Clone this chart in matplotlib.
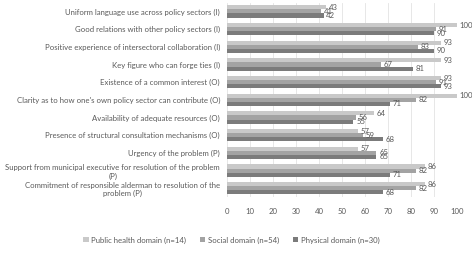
import numpy as np
import matplotlib.pyplot as plt

plt.rcParams['font.family'] = ['Lato', 'DejaVu Sans']

categories = [
    'Uniform language use across policy sectors (I)',
    'Good relations with other policy sectors (I)',
    'Positive experience of intersectoral collaboration (I)',
    'Key figure who can forge ties (I)',
    'Existence of a common interest (O)',
    "Clarity as to how one's own policy sector can contribute (O)",
    'Availability of adequate resources (O)',
    'Presence of structural consultation mechanisms (O)',
    'Urgency of the problem (P)',
    'Support from municipal executive for resolution of the problem\n(P)',
    'Commitment of responsible alderman to resolution of the\nproblem (P)',
]
public_health = [43, 100, 93, 93, 93, 100, 64, 57, 57, 86, 86]
social = [41, 91, 83, 67, 91, 82, 56, 59, 65, 82, 82]
physical = [42, 90, 90, 81, 93, 71, 55, 68, 65, 71, 68]
series_names = ['Public health domain (n=14)', 'Social domain (n=54)', 'Physical domain (n=30)']
colors = ['#c9c9c9', '#a3a3a3', '#7b7b7b']
txt = '#595959'
fs = 5.6

fig = plt.figure(figsize=(4.72, 2.61), dpi=100)
ax = fig.add_axes([0.481, 0.245, 0.487, 0.745])

y = np.arange(len(categories))
h = 0.23
for i, (vals, name) in enumerate(zip([public_health, social, physical], series_names)):
    pos = y + (i - 1) * h
    ax.barh(pos, vals, height=h, color=colors[i], label=name, zorder=2)
    for p, v in zip(pos, vals):
        ax.text(v + 1.2, p, str(v), fontsize=fs, color=txt, va='center', ha='left')

ax.set_xlim(0, 100)
ax.set_ylim(len(categories) - 0.5, -0.5)
ax.set_xticks(range(0, 101, 10))
ax.set_yticks(y)
ax.set_yticklabels(categories, fontsize=fs, color=txt, linespacing=1.25)
ax.tick_params(axis='x', labelsize=fs, colors=txt, length=0, pad=8)
ax.tick_params(axis='y', length=0, pad=5)
for lab in ax.get_yticklabels():
    lab.set_horizontalalignment('right')
    lab.set_multialignment('center')
ax.grid(axis='x', color='#e3e3e3', linewidth=0.6, zorder=0)
for s in ax.spines.values():
    s.set_visible(False)

fig.legend(loc='lower center', bbox_to_anchor=(0.49, 0.04), ncol=3, frameon=False,
           fontsize=fs, labelcolor=txt, handlelength=0.7, handleheight=0.7,
           handletextpad=0.3, columnspacing=1.8)

fig.savefig('out.png', dpi=100)
